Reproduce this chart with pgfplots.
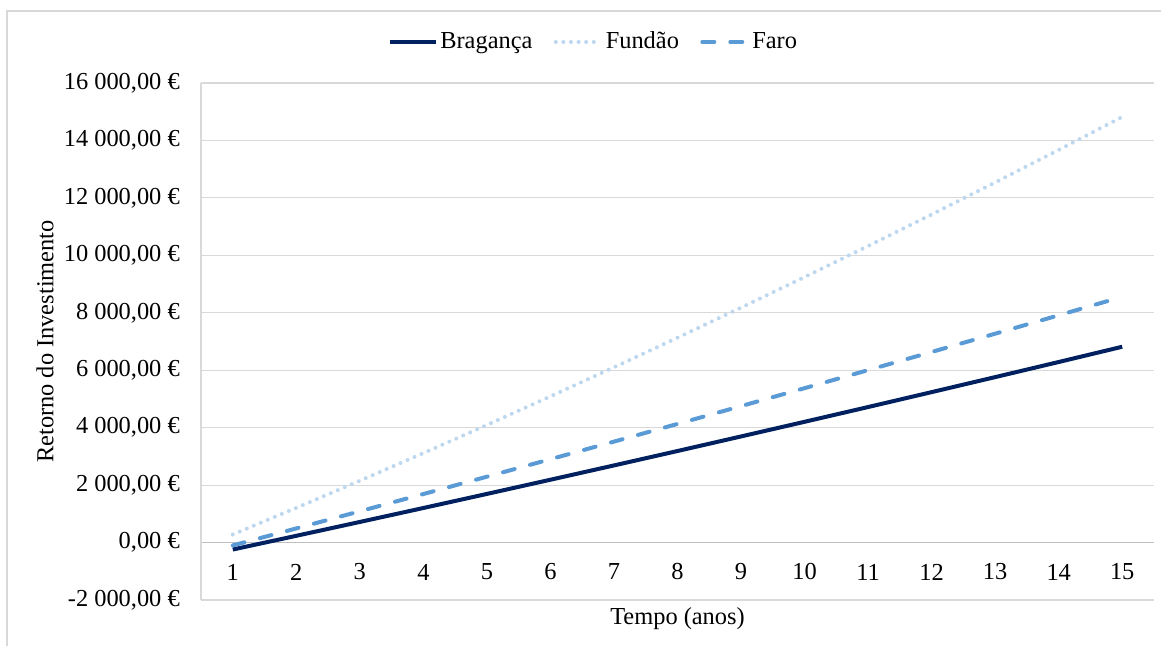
\documentclass[border=0pt]{standalone}
\usepackage{fontspec}
\setmainfont{Liberation Serif}
\usepackage{pgfplots}
\pgfplotsset{compat=1.18}
\definecolor{brag}{HTML}{002060}
\definecolor{fund}{HTML}{BDD7EE}
\definecolor{faro}{HTML}{5B9BD5}
\definecolor{gridc}{HTML}{D9D9D9}
\definecolor{zeroc}{HTML}{BFBFBF}
\newcommand{\cf}{\fontsize{18.3}{22}\selectfont}
\begin{document}
\cf
\begin{tikzpicture}
\path[use as bounding box] (-150.75pt,-34.5pt) rectangle (720pt,450pt);
\draw[gridc, line width=1pt] (-145.5pt,-40pt) -- (-145.5pt,441.75pt) -- (725pt,441.75pt);
\begin{axis}[
  at={(0pt,0pt)}, anchor=south west,
  scale only axis, width=714.75pt, height=387.75pt,
  xmin=0.5, xmax=15.5, ymin=-2000, ymax=16000,
  xtick={1,...,15},
  ytick={-2000,0,2000,4000,6000,8000,10000,12000,14000,16000},
  yticklabels={{-2 000,00 €},{0,00 €},{2 000,00 €},{4 000,00 €},{6 000,00 €},{8 000,00 €},{10 000,00 €},{12 000,00 €},{14 000,00 €},{16 000,00 €}},
  scaled y ticks=false,
  major tick length=0pt,
  axis line style={draw=none},
  ymajorgrids, grid style={gridc, line width=0.9pt},
  extra y ticks={0}, extra y tick labels={},
  extra y tick style={major grid style={zeroc, line width=1.1pt}},
  tick label style={font=\cf},
  /pgf/number format/assume math mode=true,
  yticklabel style={inner sep=0pt, anchor=east, xshift=-15.75pt},
  xticklabel style={inner sep=0pt, anchor=center, yshift=21pt},
  xlabel={Tempo (anos)}, ylabel={Retorno do Investimento},
  label style={font=\cf},
  xlabel style={at={(axis description cs:0.5,-0.0367)}, anchor=center, inner sep=0pt},
  ylabel style={at={(axis description cs:-0.1637,0.5)}, anchor=center, rotate=0, inner sep=0pt},
  legend columns=3,
  legend cell align=left,
  legend style={draw=none, fill=none, font=\cf, at={(rel axis cs:0.4124,1.0793)}, anchor=center,
    /tikz/every even column/.append style={column sep=14pt}},
  legend image code/.code={\draw[#1] (0pt,0pt) -- (34pt,0pt);},
  clip=false,
]
\addplot[brag, line width=3pt] coordinates {
(1,-243) (2,235) (3,717) (4,1203) (5,1693) (6,2187) (7,2685) (8,3187) (9,3694) (10,4204) (11,4718) (12,5237) (13,5760) (14,6286) (15,6817)};
\addlegendentry{Bragança}
\addplot[fund, line width=3pt, line cap=round, dash pattern=on 0pt off 5.7pt] coordinates {
(1,280) (2,1208) (3,2152) (4,3114) (5,4093) (6,5089) (7,6102) (8,7132) (9,8179) (10,9243) (11,10324) (12,11423) (13,12538) (14,13671) (15,14820)};
\addlegendentry{Fundão}
\addplot[faro, line width=3pt, line cap=round, dash pattern=on 9pt off 12pt] coordinates {
(1,-100) (2,492) (3,1089) (4,1689) (5,2293) (6,2902) (7,3514) (8,4130) (9,4750) (10,5375) (11,6003) (12,6635) (13,7272) (14,7912) (15,8556)};
\addlegendentry{Faro}
\draw[gridc, line width=1pt] (rel axis cs:0,0) -- (rel axis cs:0,1);
\end{axis}
\end{tikzpicture}
\end{document}
